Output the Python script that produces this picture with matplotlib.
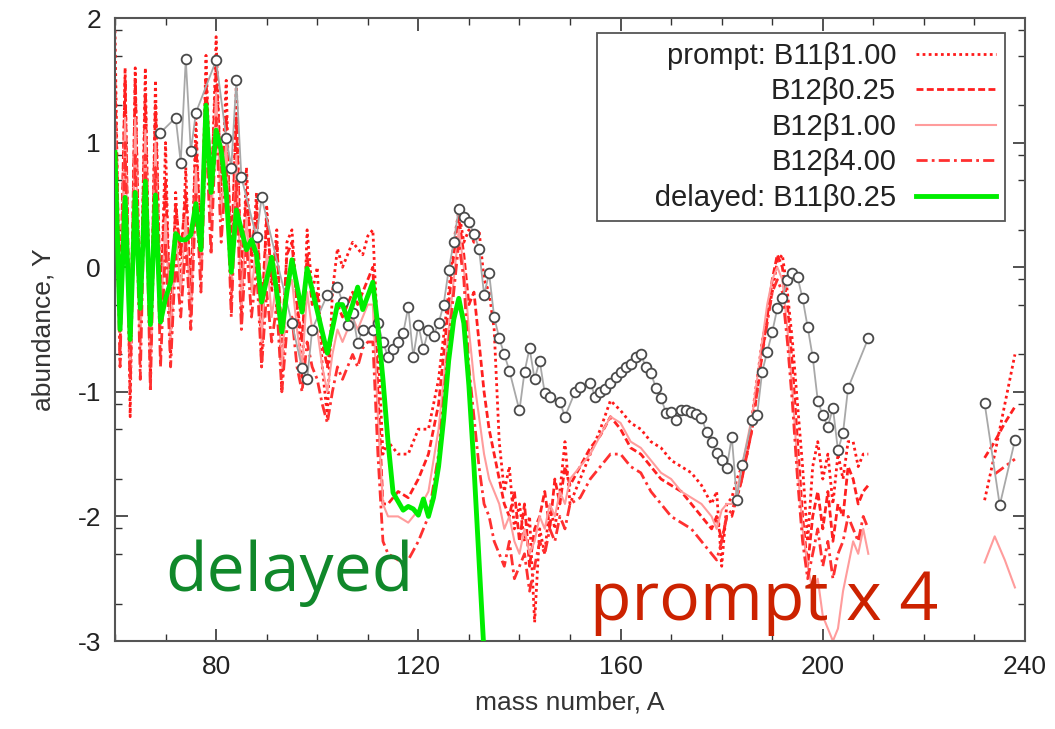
import numpy as np
import matplotlib
matplotlib.use("Agg")
import matplotlib.pyplot as plt
from matplotlib.ticker import MultipleLocator, FixedLocator

plt.rcParams['font.family'] = ['Liberation Sans', 'DejaVu Sans']
plt.rcParams['axes.unicode_minus'] = False

nan = np.nan

# mass-number grid shared by the prompt calculations
A_prompt = (list(range(60, 115)) + [116, 118, 120, 122, 124] + list(range(126, 151))
            + list(range(152, 179, 2)) + list(range(179, 210)) + [nan, 232, 234, 236, 238])

# prompt: B11 beta 1.00
Y_b11_100 = [1.9, -0.7, 1.6, -1.2, 1.6, -0.6, 1.6, -0.9, 1.5, -0.4,
             1.0, -0.7, 0.6, -0.2, 0.8, -0.4, 1.2, 0.0, 1.7, 0.4,
             1.85, 0.5, 1.5, -0.3, 1.5, -0.4, 0.8, 0.0, 0.6, -0.8,
             0.5, -0.2, 0.3, -1.0, 0.2, 0.3, -0.3, -0.9, 0.3, -0.2,
             0.0, -0.8, -1.2, -0.2, 0.15, 0.0, 0.1, 0.2, 0.15, 0.1,
             0.25, 0.3, -0.6, -1.5, -1.4,
             -1.5, -1.5, -1.3, -1.3, -0.9,
             -0.2, 0.2, 0.45, 0.2, 0.3, 0.2, 0.3, -0.1, -0.2, -0.5, -1.4, -1.8, -1.6,
             -2.1, -1.9, -2.2, -2.0, -2.85, -2.1, -2.3, -1.9, -2.1, -1.8, -1.4, -1.9,
             -1.7, -1.5, -1.3, -1.07, -1.15, -1.25, -1.3, -1.4, -1.45, -1.55, -1.6, -1.65, -1.75, -1.9,
             -1.8, -2.4, -1.9, -1.85, -1.7, -1.6, -1.5, -1.2, -0.9, -0.6, -0.4, -0.2, 0.05, 0.1,
             -0.2, -0.6, -1.1, -1.6, -2.2, -1.6, -1.4, -1.7, -1.5, -1.9, -1.5, -1.7, -1.4, -1.4,
             -1.6, -1.5, -1.5,
             nan, -1.87, -1.5, -1.1, -0.7]

# prompt: B12 beta 0.25
Y_b12_025 = [1.5, -0.3, 1.5, -0.8, 1.5, -0.5, 1.4, -0.7, 1.3, -0.3,
             0.7, -0.5, 0.5, 0.1, 0.6, -0.2, 1.0, 0.2, 1.5, 0.6,
             1.6, 0.7, 1.2, 0.1, 1.2, -0.1, 0.6, 0.1, 0.5, -0.4,
             0.4, -0.1, 0.2, -0.6, 0.1, 0.2, -0.3, -0.6, 0.1, -0.3,
             -0.2, -0.6, -0.8, -0.5, -0.3, -0.4, -0.3, -0.2, -0.3, -0.2,
             -0.1, 0.0, -1.0, -1.9, -1.9,
             -1.8, -1.85, -1.7, -1.5, -1.1,
             -0.3, 0.1, 0.4, 0.1, -0.3, -0.2, -0.6, -1.0, -1.3, -1.5, -1.7, -1.9, -2.0,
             -1.8, -2.2, -1.9, -2.4, -2.1, -2.0, -1.8, -2.1, -1.7, -1.9, -1.6, -1.75,
             -1.6, -1.45, -1.35, -1.2, -1.3, -1.45, -1.5, -1.6, -1.7, -1.75, -1.8, -1.9, -2.0, -2.1,
             -2.0, -2.2, -2.0, -2.0, -1.85, -1.7, -1.5, -1.3, -1.0, -0.7, -0.4, -0.1, 0.1, 0.0,
             -0.3, -0.8, -1.4, -2.0, -2.4, -2.0, -1.8, -2.1, -1.8, -2.2, -1.9, -2.0, -1.6, -1.7,
             -1.9, -1.8, -1.75,
             nan, -1.53, -1.4, -1.25, -1.12]

# prompt: B12 beta 1.00
Y_b12_100 = [1.2, -0.5, 1.2, -0.9, 1.2, -0.7, 1.1, -0.8, 1.0, -0.5,
             0.4, -0.6, 0.3, -0.2, 0.4, -0.4, 0.8, -0.1, 1.3, 0.3,
             1.4, 0.4, 1.0, -0.2, 0.9, -0.3, 0.4, -0.2, 0.2, -0.6,
             0.1, -0.4, -0.1, -0.8, -0.2, -0.1, -0.5, -0.8, -0.2, -0.5,
             -0.5, -0.8, -1.0, -0.7, -0.5, -0.6, -0.5, -0.4, -0.5, -0.4,
             -0.3, -0.3, -1.2, -1.9, -2.0,
             -2.0, -2.05, -1.95, -1.8, -1.3,
             -0.5, -0.1, 0.3, 0.0, -0.5, -0.9, -1.2, -1.5, -1.7, -1.8, -1.9, -2.1, -2.0,
             -2.2, -2.3, -2.1, -2.3, -2.2, -2.0, -2.1, -1.9, -2.0, -1.8, -1.9, -1.7,
             -1.6, -1.5, -1.35, -1.2, -1.25, -1.4, -1.45, -1.55, -1.65, -1.7, -1.8, -1.85, -1.9, -2.0,
             -2.1, -1.95, -1.9, -1.9, -1.8, -1.6, -1.4, -1.2, -0.9, -0.6, -0.3, -0.1, 0.0, -0.1,
             -0.5, -1.0, -1.6, -2.1, -2.4, -2.6, -2.5, -2.8, -2.9, -3.0, -2.9, -2.6, -2.4, -2.2,
             -2.3, -2.1, -2.3,
             nan, -2.37, -2.16, -2.35, -2.57]

# prompt: B12 beta 4.00
Y_b12_400 = [1.0, -0.8, 1.0, -1.0, 0.9, -0.9, 0.9, -1.0, 0.8, -0.8,
             0.2, -0.8, 0.1, -0.4, 0.2, -0.5, 0.6, -0.2, 1.1, 0.1,
             1.2, 0.2, 0.8, -0.4, 0.7, -0.5, 0.2, -0.4, 0.0, -0.8,
             -0.2, -0.6, -0.3, -1.0, -0.5, -0.4, -0.8, -1.0, -0.6, -0.8,
             -0.9, -1.1, -1.25, -1.0, -0.8, -0.9, -0.8, -0.7, -0.8, -0.65,
             -0.6, -0.6, -1.5, -2.2, -2.3,
             -2.35, -2.35, -2.2, -2.0, -1.5,
             -0.6, -0.2, 0.2, -0.1, -0.8, -1.2, -1.6, -1.9, -2.0, -2.2, -2.3, -2.4, -2.2,
             -2.5, -2.4, -2.3, -2.6, -2.4, -2.2, -2.3, -2.1, -2.2, -2.0, -2.1, -1.9,
             -1.85, -1.7, -1.6, -1.5, -1.5, -1.6, -1.65, -1.8, -1.9, -2.0, -2.05, -2.1, -2.2, -2.3,
             -2.35, -2.2, -2.0, -1.95, -1.85, -1.7, -1.5, -1.3, -1.0, -0.7, -0.45, -0.2, -0.1, -0.2,
             -0.6, -1.1, -1.7, -2.2, -2.5, -2.3, -2.1, -2.4, -2.2, -2.5, -2.3, -2.2, -2.0, -2.1,
             -2.2, -2.0, -2.1,
             nan, nan, -1.66, -1.6, -1.54]

# delayed: B11 beta 0.25
A_delayed = [60, 61, 62, 63, 64, 65, 66, 67, 68, 69, 70, 71, 72, 73, 74, 75, 76, 77, 78, 79,
             80, 81, 82, 83, 84, 85, 86, 87, 88, 89, 90, 91, 92, 93, 94, 95, 96, 97, 98, 102,
             104, 105, 106, 107, 108, 109, 110, 111, 112, 113, 114, 115, 116, 117, 118, 119, 120,
             121, 122, 123, 124, 125, 126, 127, 128, 129, 130, 131, 132, 133, 134]
Y_delayed = [0.92, -0.5, 0.56, -0.58, 0.6, -0.33, 0.69, -0.46, 0.58, -0.44, -0.25, -0.12, 0.27,
             0.22, 0.22, 0.26, 0.51, 0.14, 1.3, 0.6, 1.1, 0.94, 0.6, -0.04, 0.46, 0.3, 0.14, 0.22,
             0.1, -0.28, -0.1, 0.08, -0.2, -0.52, -0.2, 0.06, -0.15, -0.36, -0.01, -0.69,
             -0.3, -0.3, -0.42, -0.3, -0.16, -0.34, -0.23, -0.12, -0.48, -0.9, -1.4, -1.81, -1.88,
             -1.95, -1.92, -1.94, -1.99, -1.86, -2.0, -1.85, -1.6, -1.22, -0.75, -0.42, -0.25,
             -0.45, -0.95, -1.6, -2.35, -3.1, -3.8]

# observed abundances
A_obs = [69, 72, 73, 74, 75, 76, 80, 82, 83, 84, 85, 88, 89, 95, 97, 98, 99, 102, 104, 105,
         106, 107, 108, 109, 111, 112, 113, 114, 115, 116, 117, 118, 119, 120, 121, 122, 123,
         124, 125, 126, 127, 128, 129, 130, 131, 132, 133, 134, 135, 136, 137, 138, 140, 141,
         142, 143, 144, 145, 146, 148, 149, 151, 152, 154, 155, 156, 157, 158, 159, 160, 161,
         162, 163, 164, 165, 166, 167, 168, 169, 170, 171, 172, 173, 174, 175, 176, 177, 178,
         179, 180, 181, 182, 183, 184, 186, 187, 188, 189, 190, 191, 192, 193, 194, 195, 196,
         197, 198, 199, 200, 201, 202, 203, 204, 205, 209, nan, 232, 235, 238]
Y_obs = [1.08, 1.2, 0.84, 1.67, 0.93, 1.24, 1.66, 1.04, 0.8, 1.5, 0.72, 0.24, 0.56, -0.45,
         -0.81, -0.9, -0.5, -0.22, -0.16, -0.28, -0.46, -0.37, -0.61, -0.5, -0.5, -0.45, -0.6,
         -0.72, -0.66, -0.6, -0.53, -0.32, -0.72, -0.46, -0.66, -0.5, -0.55, -0.45, -0.3, -0.02,
         0.2, 0.47, 0.4, 0.36, 0.27, 0.15, -0.22, -0.05, -0.4, -0.57, -0.7, -0.83, -1.15, -0.84,
         -0.65, -0.9, -0.75, -1.01, -1.04, -1.08, -1.2, -1.0, -0.96, -0.93, -1.04, -1.0, -0.98,
         -0.93, -0.88, -0.84, -0.8, -0.78, -0.72, -0.7, -0.8, -0.85, -0.97, -1.05, -1.17, -1.16,
         -1.23, -1.15, -1.15, -1.16, -1.18, -1.21, -1.32, -1.4, -1.49, -1.55, -1.61, -1.36,
         -1.87, -1.59, -1.23, -1.19, -0.84, -0.68, -0.52, -0.33, -0.25, -0.1, -0.05, -0.08,
         -0.25, -0.48, -0.72, -1.07, -1.19, -1.28, -1.13, -1.47, -1.33, -0.97, -0.57, nan,
         -1.09, -1.91, -1.39]

fig = plt.figure(figsize=(10.55, 7.29), dpi=100)
ax = fig.add_axes([0.109, 0.1207, 0.8626, 0.8546])

ax.plot(A_obs, Y_obs, color='#a8a8a8', lw=1.3, marker='o', ms=7, mfc='white',
        mec='#4a4a4a', mew=1.3, zorder=3)
ax.plot(A_prompt, Y_b11_100, color='#ff1a1a', lw=2, ls=(0, (1, 1.2)),
        label='prompt: B11\u03b21.00', zorder=2)
ax.plot(A_prompt, Y_b12_025, color='#ff2020', lw=2, ls=(0, (2.5, 1.2)),
        label='B12\u03b20.25', zorder=2)
ax.plot(A_prompt, Y_b12_100, color='#ff9c9c', lw=1.5, ls='-',
        label='B12\u03b21.00', zorder=2)
ax.plot(A_prompt, Y_b12_400, color='#ff3030', lw=2, ls=(0, (4, 1.5, 1, 1.5)),
        label='B12\u03b24.00', zorder=2)
ax.plot(A_delayed, Y_delayed, color='#00ee00', lw=3.5,
        label='      delayed: B11\u03b20.25', zorder=4)

ax.set_xlim(60, 240)
ax.set_ylim(-3, 2)
ax.xaxis.set_major_locator(MultipleLocator(40))
ax.xaxis.set_minor_locator(MultipleLocator(10))
ax.yaxis.set_major_locator(MultipleLocator(1))
ax.yaxis.set_minor_locator(FixedLocator([k + np.log10(m) for k in range(-3, 2) for m in (2, 5, 8)]))
ax.tick_params(which='both', direction='in', top=True, right=True, colors='#333333',
               labelcolor='#222222', labelsize=19, pad=10)
ax.tick_params(which='major', length=9, width=1.2)
ax.tick_params(which='minor', length=5, width=1.0)
for sp in ax.spines.values():
    sp.set_color('#555555')
    sp.set_linewidth(1.5)

ax.set_xlabel('mass number, A', fontsize=19, color='#333333', labelpad=8)
ax.set_ylabel('abundance, Y', fontsize=19, color='#333333', labelpad=16)

leg = ax.legend(loc='upper right', bbox_to_anchor=(0.978, 0.976), markerfirst=False,
                fontsize=21, handlelength=2.75, handletextpad=0.68, labelspacing=0.26,
                borderpad=0.3, borderaxespad=0, fancybox=False, framealpha=1,
                edgecolor='#555555')
leg.get_frame().set_linewidth(1.3)
for t in leg.get_texts():
    t.set_color('#222222')
leg.set_zorder(6)

ax.text(70, -2.6, 'delayed', fontsize=49, color='#10882a', family=['Open Sans', 'DejaVu Sans'],
        va='baseline', ha='left', zorder=7)
ax.text(154, -2.83, 'prompt x 4', fontsize=49, color='#cc2200', family=['Open Sans', 'DejaVu Sans'],
        va='baseline', ha='left', zorder=7)

fig.savefig('out.png', dpi=100)
